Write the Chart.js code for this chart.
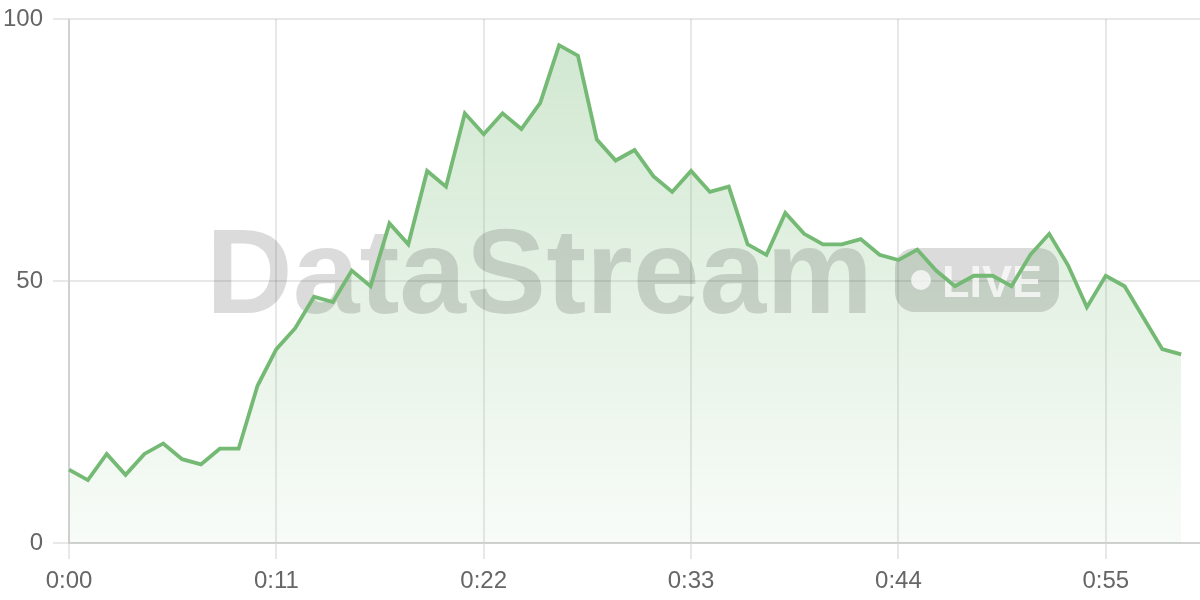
<!DOCTYPE html>
<html>
<head>
<meta charset="utf-8">
<script src="https://cdn.jsdelivr.net/npm/chart.js@4/dist/chart.umd.min.js"></script>
<style>
  html, body { margin: 0; padding: 0; background: #ffffff; }
  #wrap { width: 1200px; height: 600px; }
</style>
</head>
<body>
<div id="wrap"><canvas id="c" width="1200" height="600"></canvas></div>
<script>
const timeLabels = [
  '0:00','0:01','0:02','0:03','0:04','0:05','0:06','0:07','0:08','0:09',
  '0:10','0:11','0:12','0:13','0:14','0:15','0:16','0:17','0:18','0:19',
  '0:20','0:21','0:22','0:23','0:24','0:25','0:26','0:27','0:28','0:29',
  '0:30','0:31','0:32','0:33','0:34','0:35','0:36','0:37','0:38','0:39',
  '0:40','0:41','0:42','0:43','0:44','0:45','0:46','0:47','0:48','0:49',
  '0:50','0:51','0:52','0:53','0:54','0:55','0:56','0:57','0:58','0:59',
  '1:00'
];
const streamValues = [
  14, 12, 17, 13, 17, 19, 16, 15, 18, 18,
  30, 37, 41, 47, 46, 52, 49, 61, 57, 71,
  68, 82, 78, 82, 79, 84, 95, 93, 77, 73,
  75, 70, 67, 71, 67, 68, 57, 55, 63, 59,
  57, 57, 58, 55, 54, 56, 52, 49, 51, 51,
  49, 55, 59, 53, 45, 51, 49, 43, 37, 36
];
const shownTimeTicks = ['0:00', '0:11', '0:22', '0:33', '0:44', '0:55'];
const yTickValues = [0, 50, 100];
const watermarkText = 'DataStream';
const badgeText = 'LIVE';

const FONT = '"Liberation Sans", "Helvetica Neue", Helvetica, Arial, sans-serif';
const LINE = 'rgb(116, 185, 116)';

const watermarkPlugin = {
  id: 'watermark',
  beforeDatasetDraw(chart) {
    const { ctx, chartArea: a } = chart;
    const cx = (a.left + a.right) / 2;
    const cy = (a.top + a.bottom) / 2;
    ctx.save();
    ctx.font = 'bold 120px ' + FONT;
    const tw = ctx.measureText(watermarkText).width;
    ctx.font = 'bold 45px ' + FONT;
    const lw = ctx.measureText(badgeText).width;
    const badgeW = 47 + lw + 17;
    const badgeH = 64;
    const gap = 22;
    const total = tw + gap + badgeW;
    const x0 = cx - total / 2 - 2;
    // main text
    ctx.fillStyle = 'rgba(0,0,0,0.14)';
    ctx.font = 'bold 120px ' + FONT;
    ctx.textAlign = 'left';
    ctx.textBaseline = 'alphabetic';
    ctx.fillText(watermarkText, x0, cy + 32);
    // badge
    const bx = x0 + tw + gap;
    const by = cy - 1 - badgeH / 2;
    ctx.beginPath();
    ctx.roundRect(bx, by, badgeW, badgeH, 20);
    ctx.fill();
    ctx.fillStyle = 'rgba(255,255,255,0.72)';
    ctx.beginPath();
    ctx.arc(bx + 26, cy - 1, 10, 0, Math.PI * 2);
    ctx.fill();
    ctx.font = 'bold 45px ' + FONT;
    ctx.fillText(badgeText, bx + 47, cy + 16);
    ctx.restore();
  }
};

new Chart(document.getElementById('c'), {
  type: 'line',
  data: {
    labels: timeLabels,
    datasets: [{
      data: streamValues,
      borderColor: LINE,
      borderWidth: 3.8,
      pointRadius: 0,
      pointHoverRadius: 0,
      tension: 0,
      fill: 'origin',
      backgroundColor(context) {
        const chart = context.chart;
        const a = chart.chartArea;
        if (!a) return 'rgba(116,185,116,0.2)';
        const g = chart.ctx.createLinearGradient(0, a.top, 0, a.bottom);
        g.addColorStop(0, 'rgba(116,185,116,0.34)');
        g.addColorStop(1, 'rgba(116,185,116,0.05)');
        return g;
      }
    }]
  },
  options: {
    responsive: false,
    animation: false,
    layout: { padding: { left: 0, top: 0, right: 0, bottom: 0 } },
    plugins: {
      legend: { display: false },
      tooltip: { enabled: false }
    },
    scales: {
      x: {
        afterFit(axis) { axis.height = 57; },
        grid: { color: 'rgba(0,0,0,0.09)', lineWidth: 2, tickLength: 16 },
        border: { color: 'rgba(0,0,0,0.1)', width: 2 },
        ticks: {
          autoSkip: false,
          maxRotation: 0,
          padding: 8,
          color: '#666',
          font: { size: 24, family: FONT },
          callback(value) {
            const l = timeLabels[value];
            return shownTimeTicks.includes(l) ? l : null;
          }
        }
      },
      y: {
        min: yTickValues[0],
        max: yTickValues[yTickValues.length - 1],
        afterFit(axis) { axis.width = 69; axis.paddingTop = 19; },
        grid: { color: 'rgba(0,0,0,0.09)', lineWidth: 2, tickLength: 16 },
        border: { color: 'rgba(0,0,0,0.1)', width: 2 },
        afterBuildTicks(axis) {
          axis.ticks = yTickValues.map(v => ({ value: v }));
        },
        ticks: {
          padding: 10,
          color: '#666',
          font: { size: 24, family: FONT }
        }
      }
    }
  },
  plugins: [watermarkPlugin]
});
</script>
</body>
</html>
